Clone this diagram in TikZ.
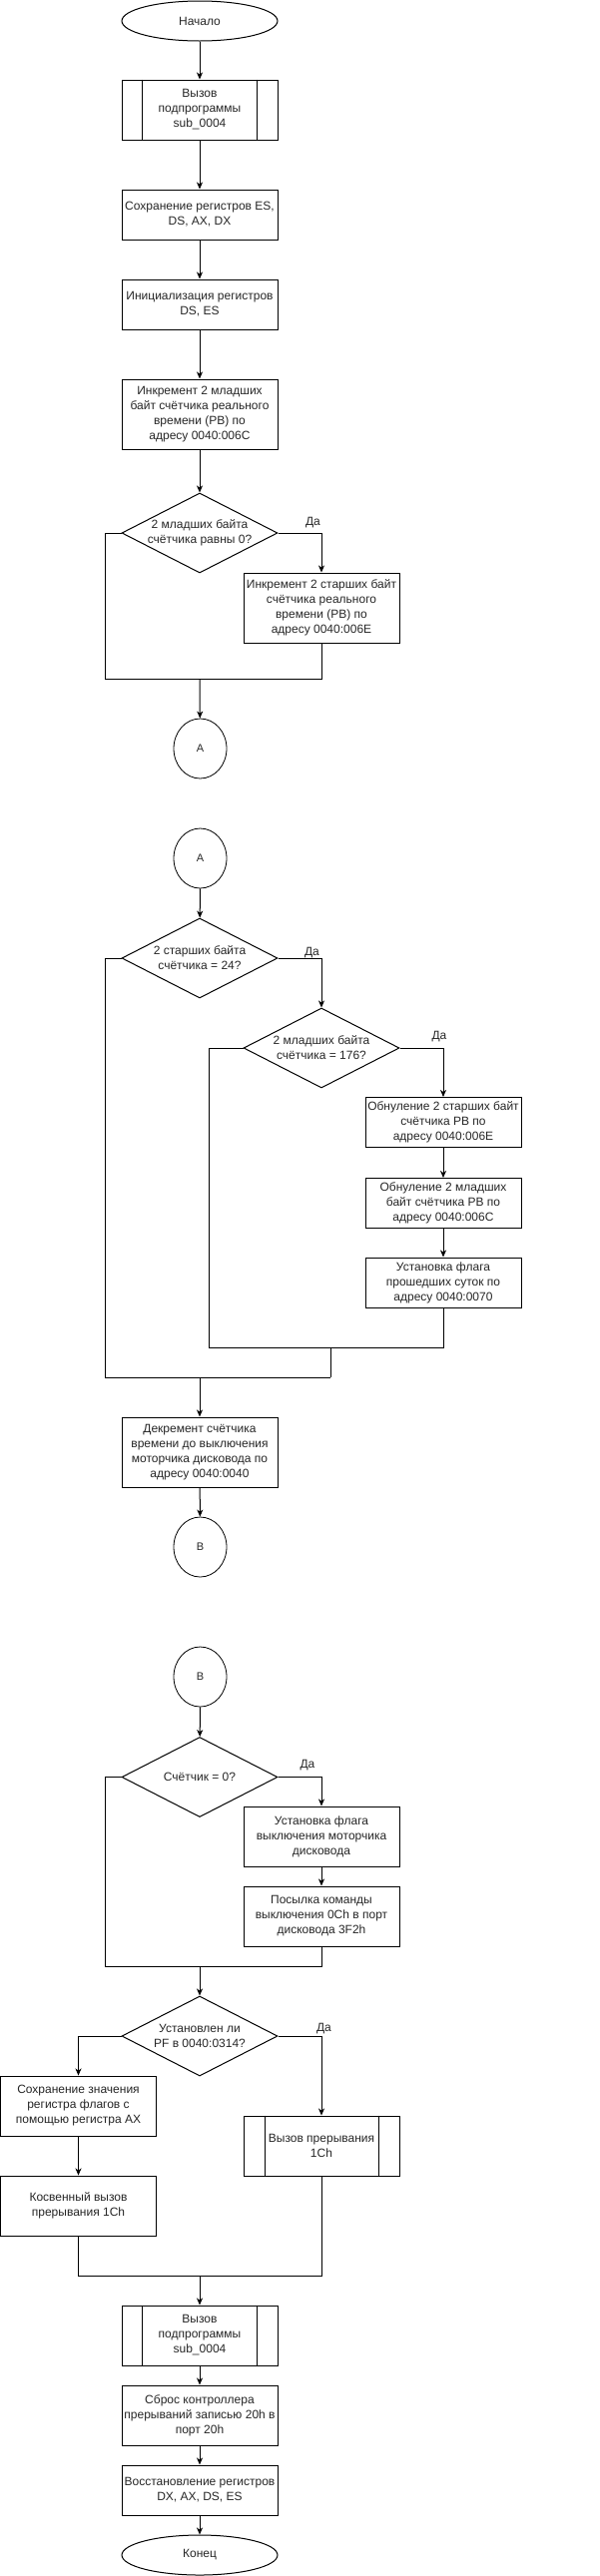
\documentclass[tikz,border=0pt]{standalone}
\usepackage{fontspec}
\setmainfont{Liberation Sans}
\usetikzlibrary{shapes.geometric,arrows.meta}
\begin{document}
\begin{tikzpicture}[x=1pt,y=-1pt,
  every node/.style={font=\fontsize{12}{15}\selectfont, align=center, inner sep=0pt, text=black!85},
  box/.style={draw=black, line width=1pt, rectangle, minimum width=156pt, minimum height=#1},
  box/.default=50pt,
  term/.style={draw=black, line width=1pt, ellipse, minimum width=156pt, minimum height=40pt},
  conn/.style={draw=black, line width=0.8pt, ellipse, minimum width=53pt, minimum height=60pt, font=\fontsize{11}{13}\selectfont},
  dia/.style={draw=black, line width=1pt, diamond, aspect=1.95, minimum width=156pt, minimum height=80pt},
  lbl/.style={font=\fontsize{12}{14}\selectfont},
  ln/.style={draw=black, line width=1pt},
  arr/.style={ln, -{Stealth[length=7pt,width=6pt,inset=2pt]}}
]
\useasboundingbox (0,0) rectangle (601,2581);

% ---- part 1 ----
\node[term] (start) at (200,21) {Начало};
\node[box=60pt] (call1) at (200,110) {Вызов\\подпрограммы\\sub\_0004};
\draw[ln] ([xshift=21pt]call1.north west) -- ([xshift=21pt]call1.south west);
\draw[ln] ([xshift=-21pt]call1.north east) -- ([xshift=-21pt]call1.south east);
\node[box=50pt] (save) at (200,215) {Сохранение регистров ES,\\DS, AX, DX};
\node[box=50pt] (init) at (200,305) {Инициализация регистров\\DS, ES};
\node[box=70pt] (inc1) at (200,415) {Инкремент 2 младших\\байт счётчика реального\\времени (РВ) по\\адресу 0040:006C};
\node[dia] (d1) at (200,534) {};
\node at (d1) {2 младших байта\\счётчика равны 0?};
\node[lbl] (y1) at (313.5,524) {Да};
\node[box=70pt] (inc2) at (322,609) {Инкремент 2 старших байт\\счётчика реального\\времени (РВ) по\\адресу 0040:006E};
\node[conn] (A1) at (200.5,750) {A};

\coordinate (j1l) at (105,680);
\coordinate (j1r) at (322,680);
\coordinate (j1c) at (200,680);

\draw[arr] (start) -- (call1);
\draw[arr] (call1) -- (save);
\draw[arr] (save) -- (init);
\draw[arr] (init) -- (inc1);
\draw[arr] (inc1) -- (d1);
\draw[arr] (d1.east) -| (inc2.north);
\draw[ln] (d1.west) -| (j1l) -- (j1r) -- (inc2.south);
\draw[arr] (j1c) -- (A1);

% ---- part 2 ----
\node[conn] (A2) at (200.5,860) {A};
\node[dia] (d2) at (200,960) {};
\node at (d2) {2 старших байта\\счётчика = 24?};
\node[lbl] (y2) at (312.5,955) {Да};
\node[dia] (d3) at (322,1050) {};
\node at (d3) {2 младших байта\\счётчика = 176?};
\node[lbl] (y3) at (440,1039) {Да};
\node[box=50pt] (z1) at (444,1124.5) {Обнуление 2 старших байт\\счётчика РВ по\\адресу 0040:006E};
\node[box=50pt] (z2) at (444,1205.5) {Обнуление 2 младших\\байт счётчика РВ по\\адресу 0040:006C};
\node[box=50pt] (flag) at (444,1285) {Установка флага\\прошедших суток по\\адресу 0040:0070};
\node[box=70pt] (dec) at (200,1455) {Декремент счётчика\\времени до выключения\\моторчика дисковода по\\адресу 0040:0040};
\node[conn] (B1) at (200.5,1550) {B};

\coordinate (j2l) at (209,1350);
\coordinate (j2r) at (444,1350);
\coordinate (j2m) at (331,1350);
\coordinate (j3l) at (105,1380);
\coordinate (j3m) at (331,1380);
\coordinate (j3c) at (200,1380);

\draw[arr] (A2) -- (d2);
\draw[arr] (d2.east) -| (d3.north);
\draw[arr] (d3.east) -| (z1.north);
\draw[arr] (z1) -- (z2);
\draw[arr] (z2) -- (flag);
\draw[ln] (d3.west) -| (j2l) -- (j2r) -- (flag.south);
\draw[ln] (j2m) -- (j3m);
\draw[ln] (d2.west) -| (j3l) -- (j3m);
\draw[arr] (j3c) -- (dec);
\draw[arr] (dec) -- (B1);

% ---- part 3 ----
\node[conn] (B2) at (200.5,1680) {B};
\node[dia] (d4) at (200,1780.5) {};
\node at (d4) {Счётчик = 0?};
\node[lbl] (y4) at (308,1769) {Да};
\node[box=60pt] (m1) at (322,1840) {Установка флага\\выключения моторчика\\дисковода};
\node[box=60pt] (m2) at (322,1920) {Посылка команды\\выключения 0Ch в порт\\дисковода 3F2h};
\node[dia] (d5) at (200,2040) {};
\node at (d5) {Установлен ли\\PF в 0040:0314?};
\node[lbl] (y5) at (324.5,2033) {Да};
\node[box=60pt] (sf) at (78.5,2110) {Сохранение значения\\регистра флагов с\\помощью регистра AX};
\node[box=60pt] (int) at (322,2150) {Вызов прерывания\\1Ch};
\draw[ln] ([xshift=21.5pt]int.north west) -- ([xshift=21.5pt]int.south west);
\draw[ln] ([xshift=-21.5pt]int.north east) -- ([xshift=-21.5pt]int.south east);
\node[box=60pt] (ind) at (78.5,2210) {Косвенный вызов\\прерывания 1Ch};
\node[box=60pt] (call2) at (200,2340) {Вызов\\подпрограммы\\sub\_0004};
\draw[ln] ([xshift=21pt]call2.north west) -- ([xshift=21pt]call2.south west);
\draw[ln] ([xshift=-21pt]call2.north east) -- ([xshift=-21pt]call2.south east);
\node[box=60pt] (reset) at (200,2420) {Сброс контроллера\\прерываний записью 20h в\\порт 20h};
\node[box=50pt] (rest) at (200,2495) {Восстановление регистров\\DX, AX, DS, ES};
\node[term] (stop) at (200,2560) {Конец};

\coordinate (j4l) at (105,1970);
\coordinate (j4r) at (322,1970);
\coordinate (j4c) at (200,1970);
\coordinate (j5l) at (78.5,2280);
\coordinate (j5r) at (322,2280);
\coordinate (j5c) at (200,2280);

\draw[arr] (B2) -- (d4);
\draw[arr] (d4.east) -| (m1.north);
\draw[arr] (m1) -- (m2);
\draw[ln] (d4.west) -| (j4l) -- (j4r) -- (m2.south);
\draw[arr] (j4c) -- (d5);
\draw[arr] (d5.west) -| (sf.north);
\draw[arr] (d5.east) -| (int.north);
\draw[arr] (sf) -- (ind);
\draw[ln] (ind.south) -- (j5l) -- (j5r) -- (int.south);
\draw[arr] (j5c) -- (call2);
\draw[arr] (call2) -- (reset);
\draw[arr] (reset) -- (rest);
\draw[arr] (rest) -- (stop);
\end{tikzpicture}
\end{document}
